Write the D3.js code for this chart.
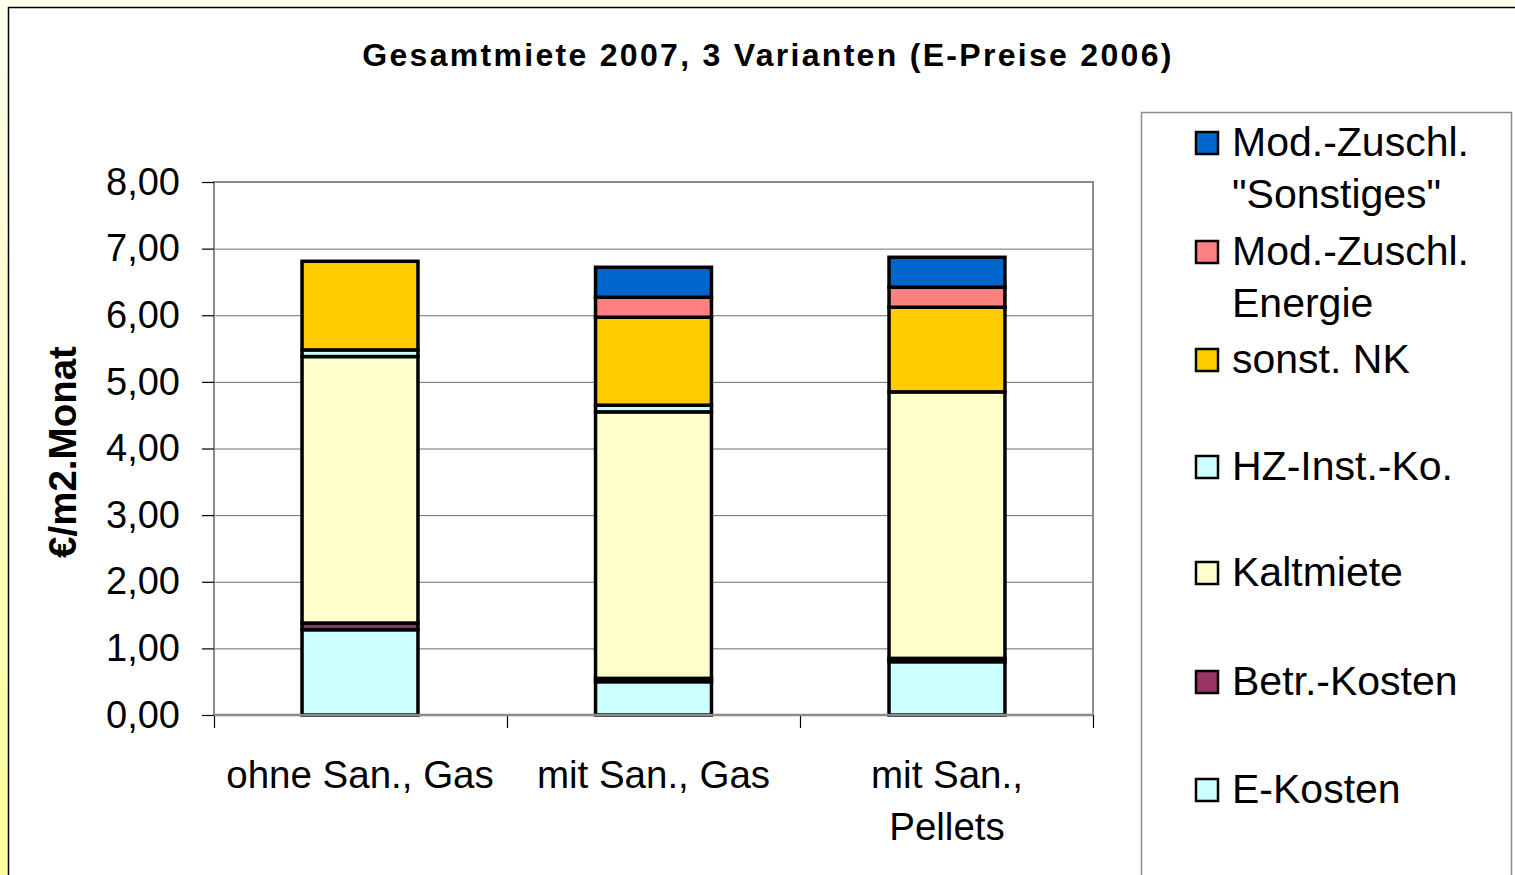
<!DOCTYPE html>
<html>
<head>
<meta charset="utf-8">
<script src="https://cdn.jsdelivr.net/npm/d3@7"></script>
<style>
  html, body { margin: 0; padding: 0; overflow: hidden; }
  body { width: 1515px; height: 875px; }
  text { font-family: "Liberation Sans", Arial, sans-serif; }
</style>
</head>
<body>
<div id="chart"></div>
<script>
const categories = [["ohne San., Gas"], ["mit San., Gas"], ["mit San.,", "Pellets"]];
const categoryKeys = ["ohne San., Gas", "mit San., Gas", "mit San., Pellets"];

// stacking order bottom -> top
const seriesNames = ["E-Kosten", "Betr.-Kosten", "Kaltmiete", "HZ-Inst.-Ko.", "sonst. NK",
  "Mod.-Zuschl. Energie", "Mod.-Zuschl. \"Sonstiges\""];
const eKosten = [1.28, 0.50, 0.80];
const betrKosten = [0.10, 0.05, 0.05];
const kaltmiete = [4.00, 4.00, 4.00];
const hzInst = [0.10, 0.10, 0.00];
const sonstNK = [1.33, 1.32, 1.27];
const modEnergie = [0.00, 0.30, 0.30];
const modSonstiges = [0.00, 0.45, 0.45];
const seriesColors = ["#ccffff", "#993366", "#ffffcc", "#ccffff", "#ffcc00", "#ff8080", "#0066cc"];

// legend order top -> bottom, with line breaks
const legendLines = [
  ["Mod.-Zuschl.", "\"Sonstiges\""],
  ["Mod.-Zuschl.", "Energie"],
  ["sonst. NK"],
  ["HZ-Inst.-Ko."],
  ["Kaltmiete"],
  ["Betr.-Kosten"],
  ["E-Kosten"]
];

const yTicks = [0, 1, 2, 3, 4, 5, 6, 7, 8];

const width = 1515;
const height = 875;
const plot = { left: 214, right: 1093, top: 182, bottom: 715 };

const svg = d3.select("#chart")
  .append("svg")
  .attr("width", width)
  .attr("height", height);

// page background with yellow gradient
const defs = svg.append("defs");
const grad = defs.append("linearGradient")
  .attr("id", "bg")
  .attr("x1", 0).attr("y1", 0).attr("x2", 0).attr("y2", 1);
grad.append("stop").attr("offset", "0%").attr("stop-color", "#ffffee");
grad.append("stop").attr("offset", "100%").attr("stop-color", "#ffff99");

svg.append("rect")
  .attr("width", width)
  .attr("height", height)
  .attr("fill", "url(#bg)");

// chart frame
svg.append("rect")
  .attr("x", 8.5)
  .attr("y", 7.5)
  .attr("width", width + 20)
  .attr("height", height + 20)
  .attr("fill", "#ffffff")
  .attr("stroke", "#000")
  .attr("stroke-width", 1.5);

const rows = categoryKeys.map(function(c, i) {
  return {
    cat: c,
    "E-Kosten": eKosten[i],
    "Betr.-Kosten": betrKosten[i],
    "Kaltmiete": kaltmiete[i],
    "HZ-Inst.-Ko.": hzInst[i],
    "sonst. NK": sonstNK[i],
    "Mod.-Zuschl. Energie": modEnergie[i],
    "Mod.-Zuschl. \"Sonstiges\"": modSonstiges[i]
  };
});

const stacked = d3.stack().keys(seriesNames)(rows);

const xScale = d3.scaleBand()
  .domain(categoryKeys)
  .range([plot.left, plot.right])
  .paddingInner(0.605)
  .paddingOuter(0.3);

const yScale = d3.scaleLinear()
  .domain([0, 8])
  .range([plot.bottom, plot.top]);

// gridlines
svg.append("g")
  .selectAll("line")
  .data(yTicks.slice(1, -1))
  .enter()
  .append("line")
  .attr("x1", plot.left)
  .attr("x2", plot.right)
  .attr("y1", d => yScale(d) + 0.5)
  .attr("y2", d => yScale(d) + 0.5)
  .attr("stroke", "#6e6e6e")
  .attr("stroke-width", 1);

// plot area border
svg.append("rect")
  .attr("x", plot.left)
  .attr("y", plot.top)
  .attr("width", plot.right - plot.left)
  .attr("height", plot.bottom - plot.top)
  .attr("fill", "none")
  .attr("stroke", "#8c8c8c")
  .attr("stroke-width", 2);

// bars
svg.append("g")
  .selectAll("g")
  .data(stacked)
  .enter()
  .append("g")
  .attr("fill", (d, i) => seriesColors[i])
  .selectAll("rect")
  .data(d => d.filter(p => p[1] - p[0] > 0))
  .enter()
  .append("rect")
  .attr("x", d => xScale(d.data.cat))
  .attr("y", d => yScale(d[1]))
  .attr("width", xScale.bandwidth())
  .attr("height", d => yScale(d[0]) - yScale(d[1]))
  .attr("stroke", "#000")
  .attr("stroke-width", 3.5);

// y axis
const yAxis = svg.append("g")
  .attr("transform", `translate(${plot.left}, 0)`)
  .call(d3.axisLeft(yScale)
    .tickValues(yTicks)
    .tickSize(12)
    .tickPadding(22)
    .tickFormat(d => d3.format(".2f")(d).replace(".", ",")));
yAxis.select(".domain").remove();
yAxis.selectAll("line").attr("stroke", "#000").attr("stroke-width", 1.2);
yAxis.selectAll("text")
  .style("font-size", "38px")
  .style("font-family", "'Liberation Sans', Arial, sans-serif")
  .attr("fill", "#000");

// x axis
const xTickPos = d3.range(categoryKeys.length + 1)
  .map(i => plot.left + i * (plot.right - plot.left) / categoryKeys.length);
svg.append("g")
  .selectAll("line")
  .data(xTickPos)
  .enter()
  .append("line")
  .attr("x1", d => d + 0.5)
  .attr("x2", d => d + 0.5)
  .attr("y1", plot.bottom)
  .attr("y2", plot.bottom + 13)
  .attr("stroke", "#000")
  .attr("stroke-width", 1.2);

svg.append("line")
  .attr("x1", plot.left)
  .attr("x2", plot.right)
  .attr("y1", plot.bottom)
  .attr("y2", plot.bottom)
  .attr("stroke", "#8c8c8c")
  .attr("stroke-width", 2.5);

const xLabels = svg.append("g")
  .selectAll("text")
  .data(categories)
  .enter()
  .append("text")
  .attr("x", (d, i) => xScale(categoryKeys[i]) + xScale.bandwidth() / 2)
  .attr("y", 788)
  .attr("text-anchor", "middle")
  .style("font-size", "38.5px")
  .attr("fill", "#000");
xLabels.selectAll("tspan")
  .data(d => d)
  .enter()
  .append("tspan")
  .attr("x", function() { return this.parentNode.getAttribute("x"); })
  .attr("dy", (d, i) => i === 0 ? 0 : 52)
  .text(d => d);

// y axis title
svg.append("text")
  .attr("transform", "translate(76, 452) rotate(-90)")
  .attr("text-anchor", "middle")
  .style("font-size", "38.5px")
  .style("font-weight", "bold")
  .text("€/m2.Monat");

// title
svg.append("text")
  .attr("x", 768)
  .attr("y", 66)
  .attr("text-anchor", "middle")
  .style("font-size", "32px")
  .style("font-weight", "bold")
  .style("letter-spacing", "2.3px")
  .text("Gesamtmiete 2007, 3 Varianten (E-Preise 2006)");

// legend
svg.append("rect")
  .attr("x", 1141.5)
  .attr("y", 112.5)
  .attr("width", 370)
  .attr("height", 800)
  .attr("fill", "#fff")
  .attr("stroke", "#8c8c8c")
  .attr("stroke-width", 1.5);

const legendColors = seriesColors.slice().reverse();
const legendY = [143, 252, 360, 467, 573, 682, 790];

const legend = svg.append("g")
  .selectAll("g")
  .data(legendLines)
  .enter()
  .append("g")
  .attr("transform", (d, i) => `translate(1196, ${legendY[i]})`);

legend.append("rect")
  .attr("x", 0)
  .attr("y", -11)
  .attr("width", 22)
  .attr("height", 22)
  .attr("fill", (d, i) => legendColors[i])
  .attr("stroke", "#000")
  .attr("stroke-width", 2.5);

legend.append("text")
  .attr("x", 36)
  .attr("y", 13)
  .style("font-size", "41px")
  .attr("fill", "#000")
  .selectAll("tspan")
  .data(d => d)
  .enter()
  .append("tspan")
  .attr("x", 36)
  .attr("dy", (d, i) => i === 0 ? 0 : 52)
  .text(d => d);
</script>
</body>
</html>
